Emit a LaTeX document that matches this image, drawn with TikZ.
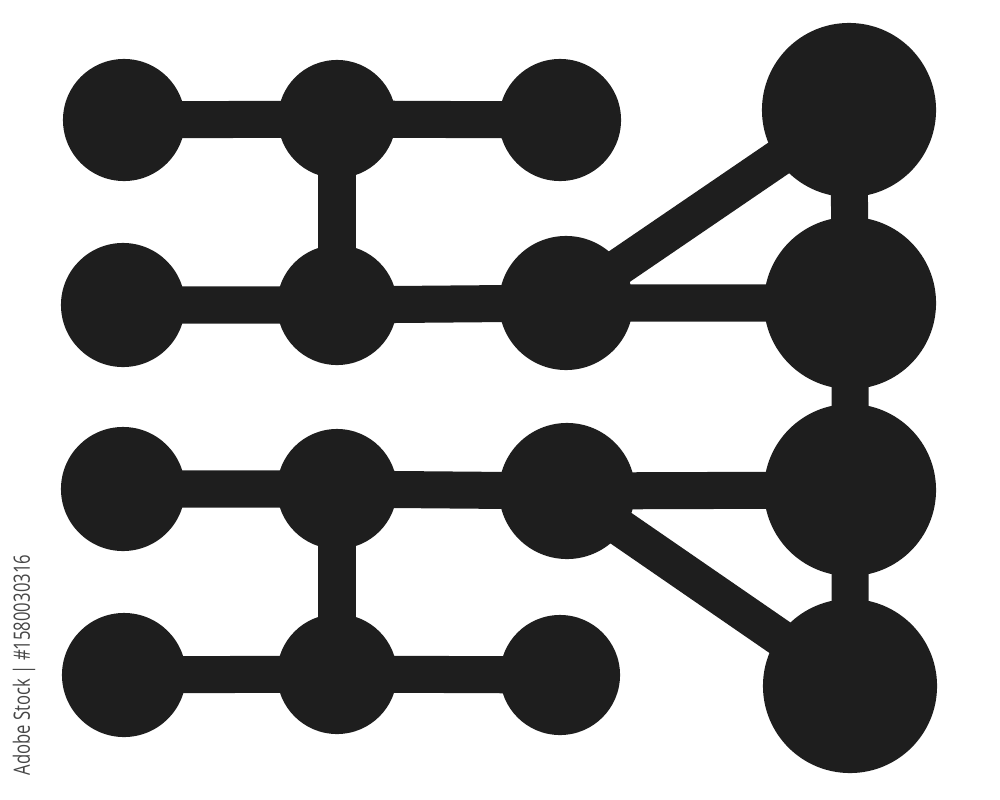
\documentclass[tikz,border=0pt]{standalone}
\usepackage{fontspec}
\setsansfont{Open Sans}
\definecolor{ink}{RGB}{30,30,30}
\definecolor{stamp}{RGB}{70,70,70}
\begin{document}
\begin{tikzpicture}[x=0.01cm, y=-0.01cm,
                dot/.style={circle, fill=ink, inner sep=0pt, minimum size=#1},
                link/.style={draw=ink, line width=0.37cm}]
                \useasboundingbox (0,0) rectangle (1000,800);
                \node[dot=1.22cm] (a1) at (124,120) {};
                \node[dot=1.18cm] (b1) at (337,119) {};
                \node[dot=1.22cm] (c1) at (560,120) {};
                \node[dot=1.74cm] (d1) at (849,110) {};
                \node[dot=1.24cm] (a2) at (123,305) {};
                \node[dot=1.20cm] (b2) at (337,305) {};
                \node[dot=1.34cm] (c2) at (566,303) {};
                \node[dot=1.72cm] (d2) at (850,303) {};
                \node[dot=1.24cm] (a3) at (123,489) {};
                \node[dot=1.20cm] (b3) at (337,489) {};
                \node[dot=1.36cm] (c3) at (567,491) {};
                \node[dot=1.72cm] (d3) at (850,490) {};
                \node[dot=1.24cm] (a4) at (124,675) {};
                \node[dot=1.20cm] (b4) at (337,674) {};
                \node[dot=1.20cm] (c4) at (560,675) {};
                \node[dot=1.74cm] (d4) at (850,686) {};
                \draw[link] (a1.center) -- (b1.center) -- (c1.center);
                \draw[link] (a2.center) -- (b2.center) -- (c2.center) -- (d2.center);
                \draw[link] (a3.center) -- (b3.center) -- (c3.center) -- (d3.center);
                \draw[link] (a4.center) -- (b4.center) -- (c4.center);
                \draw[link] (b1.center) -- (b2.center);
                \draw[link] (b3.center) -- (b4.center);
                \draw[link] (d1.center) -- (d2.center) -- (d3.center) -- (d4.center);
                \draw[link] (c2.center) -- (d1.center);
                \draw[link] (c3.center) -- (d4.center);
                \node[rotate=90, text=stamp, font=\sffamily\fontsize{6.4}{7}\selectfont, inner sep=0pt] (tag) at (24,665) {\scalebox{0.74}[1]{Adobe Stock | \#1580030316}};
\end{tikzpicture}
\end{document}
